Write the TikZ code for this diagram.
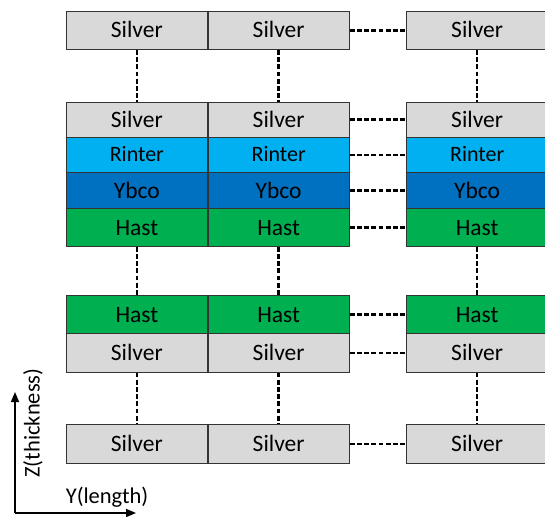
\documentclass[tikz,border=0pt]{standalone}
\usepackage{fontspec}
\setmainfont{Carlito}
\usetikzlibrary{arrows.meta}

\definecolor{silverfill}{HTML}{D9D9D9}
\definecolor{rinterfill}{HTML}{00B0F0}
\definecolor{ybcofill}{HTML}{0070C0}
\definecolor{hastfill}{HTML}{00B050}

% one layer of the tape: two cells side by side, a gap, then the last cell
\newcommand\layerrow[5]{% #1 name, #2 top, #3 height, #4 style, #5 label
  \node[cell,#4,minimum height=#3pt] (#1a) at (65.7,#2) {#5};
  \node[cell,#4,minimum height=#3pt] (#1b) at (207.5,#2) {#5};
  \node[cell,#4,minimum height=#3pt] (#1c) at (406,#2) {#5};
  \draw[link] (#1b.east) -- (#1c.west);
}

\begin{document}
\begin{tikzpicture}[x=1pt,y=-1pt,
  cell/.style={draw=black!80, line width=0.8pt, minimum width=141.5pt,
    inner sep=0pt, anchor=north west, text height=15pt, text depth=0pt,
    font=\fontsize{23.5}{26}\selectfont},
  silver/.style={fill=silverfill},
  rinter/.style={fill=rinterfill, font=\fontsize{22}{26}\selectfont, text height=14pt},
  ybco/.style={fill=ybcofill},
  hast/.style={fill=hastfill},
  link/.style={draw=black, line width=2.5pt, dash pattern=on 4.8pt off 2.4pt},
  axis/.style={draw=black, line width=1.6pt, -{Triangle[length=10pt,width=8pt]}},
  axislabel/.style={font=\fontsize{22.5}{26}\selectfont, inner sep=0pt}
]
\useasboundingbox (0,0) rectangle (545,516);
\clip (0,0) rectangle (545,516);

% top silver layer
\layerrow{sa}{10.7}{38.6}{silver}{Silver}

% silver / rinter / ybco / hast stack
\layerrow{sb}{101.7}{34.8}{silver}{Silver}
\layerrow{rb}{136.5}{35.8}{rinter}{Rinter}
\layerrow{yb}{172.3}{36.0}{ybco}{Ybco}
\layerrow{hb}{208.3}{37.7}{hast}{Hast}

% hast / silver pair
\layerrow{hc}{295}{38.3}{hast}{Hast}
\layerrow{sc}{333.3}{38.4}{silver}{Silver}

% bottom silver layer
\layerrow{sd}{424}{38.7}{silver}{Silver}

% vertical links between the groups
\foreach \c in {a,b,c}{
  \draw[link] (sa\c.south) -- (sb\c.north);
  \draw[link] (hb\c.south) -- (hc\c.north);
  \draw[link] (sc\c.south) -- (sd\c.north);
}

% axes
\coordinate (origin) at (15,513);
\coordinate (zend) at (15,392);
\coordinate (yend) at (136,513);
\draw[axis] (origin) -- (zend);
\draw[axis] (origin) -- (yend);
\node[axislabel, rotate=90] (zlabel) at (33,423) {Z(thickness)};
\node[axislabel] (ylabel) at (107,497) {Y(length)};
\end{tikzpicture}
\end{document}
